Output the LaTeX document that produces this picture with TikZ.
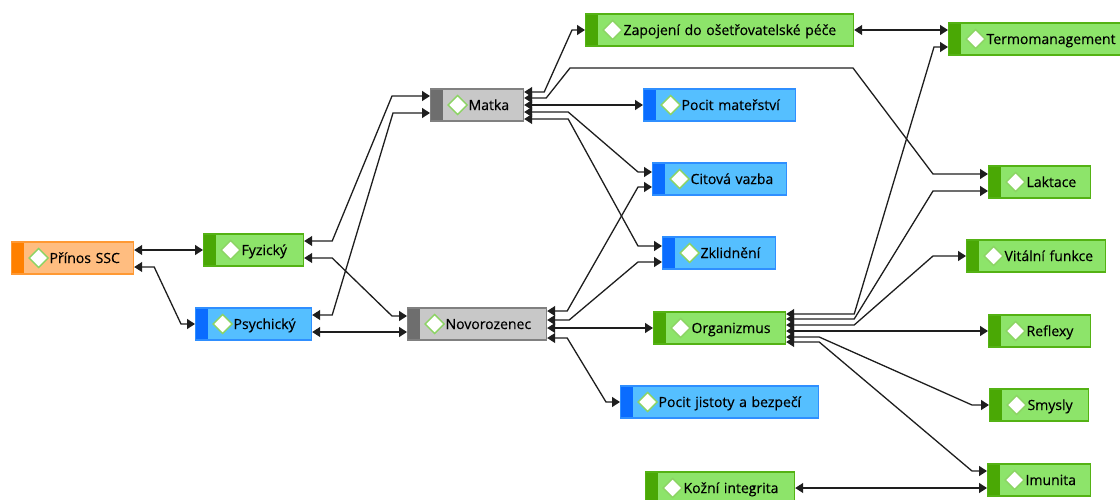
\documentclass[tikz,border=0pt]{standalone}
\usepackage{fontspec}
\setmainfont{Open Sans}
\newfontfamily\topicfont[FakeBold=0.35]{Open Sans}
\usetikzlibrary{arrows.meta}
\definecolor{greenback}{RGB}{141,228,106}
\definecolor{greenstrip}{RGB}{74,168,5}
\definecolor{greenline}{RGB}{84,178,20}
\definecolor{blueback}{RGB}{85,191,255}
\definecolor{bluestrip}{RGB}{10,108,255}
\definecolor{blueline}{RGB}{47,143,255}
\definecolor{greyback}{RGB}{200,200,200}
\definecolor{greystrip}{RGB}{110,110,110}
\definecolor{greyline}{RGB}{128,128,128}
\definecolor{orangeback}{RGB}{255,189,128}
\definecolor{orangestrip}{RGB}{255,128,0}
\definecolor{orangeline}{RGB}{255,153,51}
\definecolor{diamondline}{RGB}{140,212,100}
\definecolor{linkline}{RGB}{30,30,30}
\tikzset{
  topic/.style={draw=#1line, fill=#1back, line width=1.2pt,
    minimum height=32pt, inner sep=0pt, anchor=west, align=left,
    text height=10pt, text depth=0pt, font=\topicfont\fontsize{14}{16}\selectfont,
    execute at begin node={\hspace*{38pt}},
    path picture={
      \fill[#1strip] (path picture bounding box.north west) rectangle ([xshift=12pt]path picture bounding box.south west);
      \draw[diamondline, fill=white, line width=1.4pt] ([xshift=27pt]path picture bounding box.west)
        +(-9.5pt,0) -- +(0,9.5pt) -- +(9.5pt,0) -- +(0,-9.5pt) -- cycle;
    }},
  wide/.style={minimum width=#1, text width=#1},
  link/.style={draw=linkline, line width=1.3pt, <->, >={Triangle[length=8pt,width=10pt]}}
}
\begin{document}
\begin{tikzpicture}[x=1pt,y=-1pt]
\useasboundingbox (0,0) rectangle (1120,499);
\node[topic=orange, wide=122pt] (ssc) at (11,258) {Přínos SSC};
\node[topic=green, wide=100pt] (fyz) at (203,250) {Fyzický};
\node[topic=blue, wide=116pt] (psy) at (195,324) {Psychický};
\node[topic=grey, wide=93pt] (matka) at (430,105) {Matka};
\node[topic=grey, wide=139pt] (novo) at (407,324) {Novorozenec};
\node[topic=green, wide=268pt] (zapo) at (585,30) {Zapojení do ošetřovatelské péče};
\node[topic=blue, wide=152pt] (matst) at (643,105) {Pocit mateřství};
\node[topic=blue, wide=134pt] (citova) at (652,179) {Citová vazba};
\node[topic=blue, wide=113pt] (zklid) at (662,253) {Zklidnění};
\node[topic=green, wide=132pt] (organ) at (653,328) {Organizmus};
\node[topic=blue, wide=198pt] (jist) at (620,402) {Pocit jistoty a bezpečí};
\node[topic=green, wide=149pt] (kozni) at (645,488) {Kožní integrita};
\node[topic=green, wide=176pt] (termo) at (948,39) {Termomanagement};
\node[topic=green, wide=102pt] (lakt) at (988,182) {Laktace};
\node[topic=green, wide=139pt] (vital) at (966,256) {Vitální funkce};
\node[topic=green, wide=102pt] (reflexy) at (988,331) {Reflexy};
\node[topic=green, wide=99pt] (smysly) at (989,405) {Smysly};
\node[topic=green, wide=103pt] (imun) at (987,480) {Imunita};

\draw[link] ([yshift=8pt]ssc.east) -- (fyz.west);
\draw[link] ([yshift=-9pt]ssc.east) -- ++(20,0) -- (181,324) -- (psy.west);
\draw[link] ([yshift=9pt]fyz.east) -- ++(28,0) -- (392,96) -- ([yshift=9pt]matka.west);
\draw[link] ([yshift=9pt]psy.east) -- ++(20,0) -- (393,113) -- ([yshift=-8pt]matka.west);
\draw[link] ([yshift=-8pt]fyz.east) -- ++(28,0) -- (392,316) -- ([yshift=8pt]novo.west);
\draw[link] ([yshift=-8pt]psy.east) -- ([yshift=-8pt]novo.west);

\draw[link] ([yshift=13pt]matka.east) -- ++(20,0) -- (572,30) -- (zapo.west);
\draw[link] ([yshift=7pt]matka.east) -- ++(22,0) -- (570,68) -- (853,68) -- (933,174) -- ([yshift=8pt]lakt.west);
\draw[link] (matka.east) -- (matst.west);
\draw[link] ([yshift=-7pt]matka.east) -- ++(44,0) -- (638,172) -- ([yshift=7pt]citova.west);
\draw[link] ([yshift=-14pt]matka.east) -- ++(44,0) -- (638,246) -- ([yshift=7pt]zklid.west);

\draw[link] ([yshift=13pt]novo.east) -- ++(20,0) -- (638,187) -- ([yshift=-8pt]citova.west);
\draw[link] ([yshift=4pt]novo.east) -- ++(22,0) -- (638,262) -- ([yshift=-9pt]zklid.west);
\draw[link] (organ.west -| novo.east) -- (organ.west);
\draw[link] ([yshift=-14pt]novo.east) -- ++(20,0) -- (606,402) -- (jist.west);

\draw[link] ([yshift=14pt]organ.east) -- ++(68,0) -- (934,47) -- ([yshift=-8pt]termo.west);
\draw[link] ([yshift=9pt]organ.east) -- ++(68,0) -- (933,191) -- ([yshift=-9pt]lakt.west);
\draw[link] ([yshift=3pt]organ.east) -- ++(68,0) -- (933,256) -- (vital.west);
\draw[link] (reflexy.west -| organ.east) -- (reflexy.west);
\draw[link] ([yshift=-9pt]organ.east) -- ++(33,0) -- (972,405) -- (smysly.west);
\draw[link] ([yshift=-14pt]organ.east) -- ++(33,0) -- (972,471) -- ([yshift=9pt]imun.west);
\draw[link] (zapo.east) -- (zapo.east -| termo.west);
\draw[link] (kozni.east) -- (kozni.east -| imun.west);
\end{tikzpicture}
\end{document}
